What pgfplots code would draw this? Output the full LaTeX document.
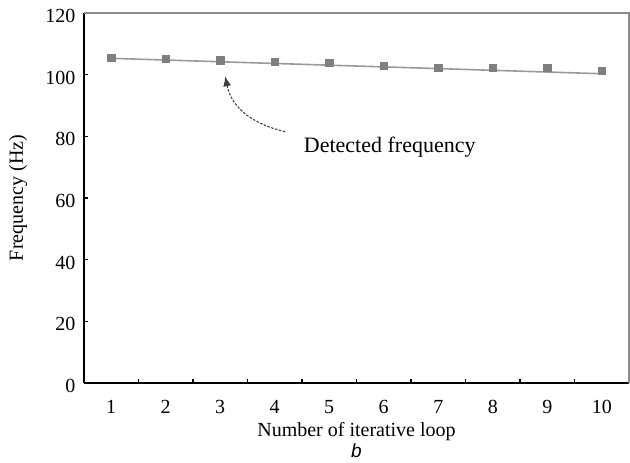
\documentclass[border=0pt]{standalone}
\usepackage{fontspec}
\setmainfont{Liberation Serif}
\setsansfont{Liberation Sans}
\usepackage{pgfplots}
\pgfplotsset{compat=1.18}
\usetikzlibrary{arrows.meta}

% detected frequency per iteration
\pgfplotstableread{
loop freq
1  105.6
2  105.3
3  104.7
4  104.2
5  103.9
6  103.0
7  102.3
8  102.2
9  102.2
10 101.3
}\freqdata

% straight line through the detections
\pgfplotstableread{
loop freq
1  105.3
10 100.3
}\trenddata

\definecolor{markgray}{HTML}{7F7F7F}
\definecolor{linegray}{HTML}{9A9A9A}
\definecolor{framegray}{HTML}{8C8C8C}

\begin{document}
\begin{tikzpicture}
\begin{axis}[
  name=ax,
  scale only axis,
  width=545pt, height=370pt,
  xmin=0.5, xmax=10.5,
  ymin=0, ymax=120,
  axis x line*=bottom,
  axis y line*=left,
  axis line style={black, line width=1.4pt},
  xtick={1.5,2.5,...,9.5},
  xticklabels=\empty,
  extra x ticks={1,2,...,10},
  extra x tick style={major tick length=0pt},
  ytick={0,20,...,120},
  tick align=inside,
  major tick length=4pt,
  tick style={black, line width=1.2pt},
  /pgf/number format/assume math mode=true,
  tick label style={font=\fontsize{20}{24}\selectfont},
  xticklabel style={anchor=center, yshift=-24pt},
  yticklabel style={anchor=east, xshift=-5pt, yshift=-3pt},
  xlabel={Number of iterative loop},
  ylabel={Frequency (Hz)},
  every axis x label/.style={at={([yshift=-49pt]axis description cs:0.5,0)},
    anchor=center, font=\fontsize{20}{24}\selectfont},
  every axis y label/.style={at={([xshift=-66pt]axis description cs:0,0.5)},
    anchor=center, rotate=90, font=\fontsize{20}{24}\selectfont},
  clip=false,
]
  % frame on the top and right side
  \draw[framegray, line width=1.2pt] (rel axis cs:0,1) -- (rel axis cs:1,1) -- (rel axis cs:1,0);

  \addplot[linegray, line width=1.6pt, no markers] table[x=loop, y=freq] {\trenddata};
  \addplot[only marks, mark=square*, mark size=3.6pt,
           mark options={fill=markgray, draw=markgray}] table[x=loop, y=freq] {\freqdata};

  % annotation
  \draw[black!75, line width=1.1pt, dash pattern=on 2.5pt off 1.5pt,
        -{Latex[length=10pt, width=8pt]}]
    (axis cs:4.19,81.5) .. controls (axis cs:3.64,83.8) and (axis cs:3.22,88.6) .. (axis cs:3.09,99.5);
  \node[font=\fontsize{22}{26}\selectfont, anchor=center] at (axis cs:6.11,76.6) {Detected frequency};

  \node[font=\sffamily\itshape\fontsize{19}{22}\selectfont, anchor=center]
    at ([yshift=-68pt]axis description cs:0.5,0) {b};
\end{axis}
\pgfresetboundingbox
\path ([xshift=-84pt, yshift=-80pt]ax.south west) rectangle ([xshift=1pt, yshift=13pt]ax.north east);
\end{tikzpicture}
\end{document}
